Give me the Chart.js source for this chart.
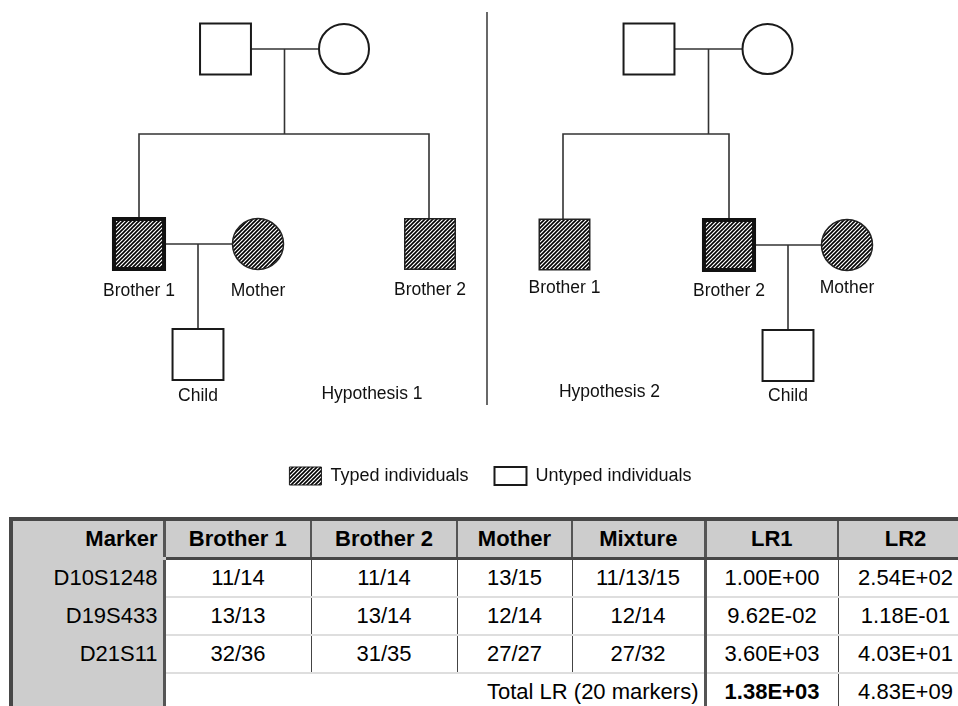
<!DOCTYPE html>
<html>
<head>
<meta charset="utf-8">
<script src="https://cdn.jsdelivr.net/npm/chart.js@4/dist/chart.umd.min.js"></script>
<style>
  html, body { margin: 0; padding: 0; background: #fff; overflow: hidden; }
  body { width: 958px; height: 706px; position: relative; }
  #pedigree { position: absolute; left: 0; top: 0; }
  #lrTable {
    position: absolute; left: 9px; top: 517px;
    border-collapse: collapse; table-layout: fixed; width: 962px;
    font-family: "Liberation Sans", Arial, Helvetica, sans-serif; font-size: 22px; color: #000;
  }
  #lrTable th, #lrTable td { padding: 0 5px; text-align: center; white-space: nowrap; overflow: hidden; }
  #lrTable th {
    background: #cdcdcd; font-weight: bold; height: 36px;
    border-top: 4px solid #474747; border-right: 2px solid #555; border-bottom: 3px solid #474747;
  }
  #lrTable td { height: 36px; border-right: 1.5px solid #444; border-bottom: 2px solid #dedede; }
  #lrTable .mk { background: #cdcdcd; text-align: right; border-left: 4px solid #474747; border-right: 3px solid #555; border-bottom-color: #cdcdcd; }
  #lrTable .mx { border-right: 3px solid #555; }
  #lrTable .tot { text-align: right; }
  #lrTable .b { font-weight: bold; }
</style>
</head>
<body>
<canvas id="pedigree" width="958" height="495"></canvas>
<table id="lrTable">
  <colgroup>
    <col style="width:153px"><col style="width:147px"><col style="width:146px"><col style="width:115px">
    <col style="width:133px"><col style="width:133px"><col style="width:135px">
  </colgroup>
  <thead><tr id="headRow"></tr></thead>
  <tbody id="tableBody"></tbody>
</table>
<script>
// pedigree members (layout units on the chart's x / y scales)
const personLabels = ['', '', 'Brother 1', 'Mother', 'Brother 2', 'Child',
                      '', '', 'Brother 1', 'Brother 2', 'Mother', 'Child'];
const personKind = ['male', 'female', 'typedMaleBold', 'typedFemale', 'typedMale', 'male',
                    'male', 'female', 'typedMale', 'typedMaleBold', 'typedFemale', 'male'];
const personX = [225.5, 344, 139, 258, 430, 198, 649, 767.5, 564.5, 729, 847, 788];
const personY = [49, 49, 244, 244, 244, 354.5, 49, 49, 244.5, 245, 245, 355.5];
const labelY  = [0, 0, 291, 291, 290, 396, 0, 0, 288.5, 291.5, 288.5, 396.5];

// connecting lines
const connectors = [
  [[225.5, 49], [344, 49]],
  [[284.5, 49], [284.5, 134]],
  [[139, 244], [139, 134], [429, 134], [429, 244]],
  [[139, 244], [258, 244]],
  [[198, 244], [198, 354.5]],
  [[649, 49], [767.5, 49]],
  [[708.5, 49], [708.5, 134]],
  [[563, 244.5], [563, 134], [729, 134], [729, 245]],
  [[729, 245], [847, 245]],
  [[788, 245], [788, 355.5]],
  [[487, 12], [487, 405]]
];

const hypothesisLabels = ['Hypothesis 1', 'Hypothesis 2'];
const hypothesisX = [372, 609.5];
const hypothesisY = [394, 392];

const legendLabels = ['Typed individuals', 'Untyped individuals'];

// table data
const columns = ['Marker', 'Brother 1', 'Brother 2', 'Mother', 'Mixture', 'LR1', 'LR2'];
const markers = ['D10S1248', 'D19S433', 'D21S11'];
const brother1 = ['11/14', '13/13', '32/36'];
const brother2 = ['11/14', '13/14', '31/35'];
const mother = ['13/15', '12/14', '27/27'];
const mixture = ['11/13/15', '12/14', '27/32'];
const lr1 = [1.00e0, 9.62e-2, 3.60e3];
const lr2 = [2.54e2, 1.18e-1, 4.03e1];
const totalLabel = 'Total LR (20 markers)';
const totalLR1 = 1.38e3;
const totalLR2 = 4.83e9;

const FONT = '"Liberation Sans", Arial, Helvetica, sans-serif';

function sci(v) {
  const parts = v.toExponential(2).split('e');
  const n = parseInt(parts[1], 10);
  return parts[0] + 'E' + (n < 0 ? '-' : '+') + String(Math.abs(n)).padStart(2, '0');
}

// table
const headRow = document.getElementById('headRow');
columns.forEach(function(c, i) {
  const th = document.createElement('th');
  th.textContent = c;
  if (i === 0) th.className = 'mk';
  if (i === 4) th.className = 'mx';
  headRow.appendChild(th);
});
const body = document.getElementById('tableBody');
markers.forEach(function(m, i) {
  const tr = document.createElement('tr');
  [m, brother1[i], brother2[i], mother[i], mixture[i], sci(lr1[i]), sci(lr2[i])].forEach(function(v, j) {
    const td = document.createElement('td');
    td.textContent = v;
    if (j === 0) td.className = 'mk';
    if (j === 4) td.className = 'mx';
    tr.appendChild(td);
  });
  body.appendChild(tr);
});
const totRow = document.createElement('tr');
totRow.innerHTML = '<td class="mk"></td><td class="mx tot" colspan="4"></td><td class="b"></td><td></td>';
totRow.children[1].textContent = totalLabel;
totRow.children[2].textContent = sci(totalLR1);
totRow.children[3].textContent = sci(totalLR2);
body.appendChild(totRow);

// hatch fill
function makeHatch() {
  const t = document.createElement('canvas');
  t.width = 4; t.height = 4;
  const c = t.getContext('2d');
  c.fillStyle = '#fff';
  c.fillRect(0, 0, 4, 4);
  c.strokeStyle = '#000';
  c.lineWidth = 1.6;
  c.beginPath();
  c.moveTo(0, 4); c.lineTo(4, 0);
  c.moveTo(-1, 1); c.lineTo(1, -1);
  c.moveTo(3, 5); c.lineTo(5, 3);
  c.stroke();
  return document.getElementById('pedigree').getContext('2d').createPattern(t, 'repeat');
}
const hatch = makeHatch();

function pointsOf(kind) {
  const pts = [];
  personKind.forEach(function(k, i) { if (k === kind) pts.push({x: personX[i], y: personY[i]}); });
  return pts;
}

const shapeDatasets = [
  {data: pointsOf('male'), pointStyle: 'rect', pointRadius: 36, backgroundColor: '#fff', borderColor: '#1a1a1a', borderWidth: 2},
  {data: pointsOf('female'), pointStyle: 'circle', pointRadius: 25, backgroundColor: '#fff', borderColor: '#1a1a1a', borderWidth: 2},
  {data: pointsOf('typedMale'), pointStyle: 'rect', pointRadius: 35.7, backgroundColor: hatch, borderColor: '#222', borderWidth: 1.5},
  {data: pointsOf('typedMaleBold'), pointStyle: 'rect', pointRadius: 35.4, backgroundColor: hatch, borderColor: '#111', borderWidth: 4},
  {data: pointsOf('typedFemale'), pointStyle: 'circle', pointRadius: 25.5, backgroundColor: hatch, borderColor: '#222', borderWidth: 1.5}
].map(function(d) {
  return Object.assign({order: 0, showLine: false, pointHoverRadius: d.pointRadius}, d);
});

const lineDatasets = connectors.map(function(seg, i) {
  return {
    data: seg.map(function(p) { return {x: p[0], y: p[1]}; }),
    showLine: true, order: 1, pointRadius: 0, pointHoverRadius: 0,
    borderColor: i === connectors.length - 1 ? '#444' : '#333',
    borderWidth: 1.6, tension: 0, fill: false
  };
});

const labelPlugin = {
  id: 'pedigreeLabels',
  afterDatasetsDraw(chart) {
    const ctx = chart.ctx, x = chart.scales.x, y = chart.scales.y;
    ctx.save();
    ctx.font = '17.5px ' + FONT;
    ctx.fillStyle = '#111';
    ctx.textAlign = 'center';
    ctx.textBaseline = 'middle';
    personLabels.forEach(function(t, i) {
      if (t) ctx.fillText(t, x.getPixelForValue(personX[i]), y.getPixelForValue(labelY[i]));
    });
    hypothesisLabels.forEach(function(t, i) {
      ctx.fillText(t, x.getPixelForValue(hypothesisX[i]), y.getPixelForValue(hypothesisY[i]));
    });
    ctx.restore();
  }
};

new Chart(document.getElementById('pedigree'), {
  type: 'scatter',
  data: {datasets: shapeDatasets.concat(lineDatasets)},
  options: {
    responsive: false,
    animation: false,
    events: [],
    layout: {autoPadding: false, padding: {left: 23, right: 0, top: 0, bottom: 0}},
    scales: {
      x: {type: 'linear', min: 23, max: 958, display: false},
      y: {type: 'linear', min: 0, max: 441, reverse: true, display: false}
    },
    plugins: {
      tooltip: {enabled: false},
      legend: {
        position: 'bottom',
        labels: {
          boxWidth: 32, boxHeight: 18, padding: 26,
          color: '#111',
          font: {family: FONT, size: 18},
          generateLabels: function() {
            return legendLabels.map(function(t, i) {
              return {text: t, fillStyle: i === 0 ? hatch : '#fff', strokeStyle: '#1a1a1a',
                      lineWidth: i === 0 ? 1 : 2, hidden: false, fontColor: '#111', datasetIndex: i};
            });
          }
        }
      }
    }
  },
  plugins: [labelPlugin]
});
</script>
</body>
</html>
